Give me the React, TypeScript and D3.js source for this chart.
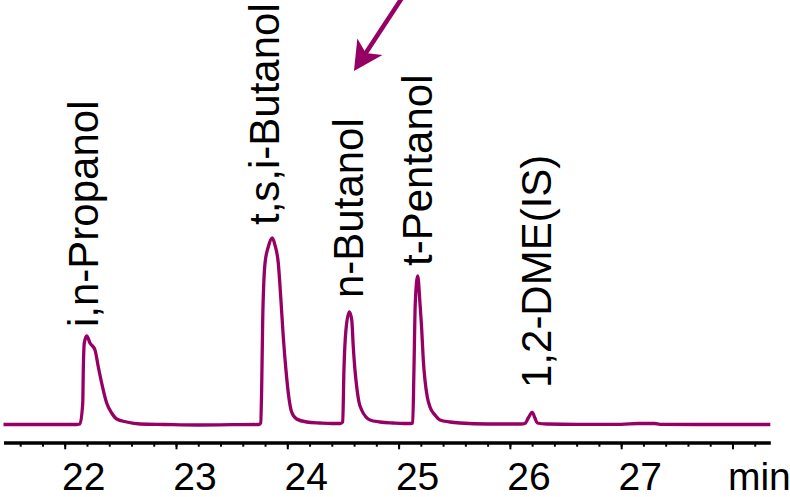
import { useEffect, useRef } from "react"
import * as d3 from "d3"

// chromatogram trace (min, arbitrary signal units)
const retentionTimes = [
  21.45, 21.8, 22.1, 22.137, 22.162, 22.167, 22.176, 22.198, 22.227, 22.272, 22.302, 22.332, 22.377, 22.422,
  22.467, 22.557, 22.677, 22.9, 23.2, 23.5, 23.745, 23.761, 23.77, 23.779, 23.8, 23.829, 23.865, 23.889,
  23.919, 23.941, 23.964, 23.988, 24.009, 24.039, 24.084, 24.174, 24.294, 24.4, 24.475, 24.498, 24.509,
  24.527, 24.557, 24.579, 24.593, 24.608, 24.624, 24.644, 24.668, 24.707, 24.743, 24.833, 24.95, 25.05,
  25.11, 25.127, 25.138, 25.15, 25.172, 25.192, 25.208, 25.222, 25.237, 25.258, 25.282, 25.327, 25.372,
  25.462, 25.552, 25.8, 26.1, 26.136, 26.165, 26.201, 26.225, 26.246, 26.331, 26.6, 27.0, 27.15, 27.3,
  27.35, 27.7, 28.34,
]
const detectorSignal = [
  0.5, 0.5, 0.5, 1, 22, 55, 82, 89, 82, 75, 58, 42, 22, 12,
  6, 3, 1, 0.5, 0, 0.3, 0.5, 2, 38, 105, 162, 178, 187, 180,
  162, 128, 88, 55, 32, 13, 6, 3, 2, 1.5, 1.5, 3, 55,
  95, 113, 105, 78, 55, 38, 23, 15, 8, 5, 3, 2, 1.5,
  1.5, 2, 55, 122, 149, 122, 95, 65, 45, 28, 18, 10, 5,
  3, 2, 1, 1, 1.5, 7, 12.5, 7, 2, 1, 0.7, 0.7, 1.5, 1.5,
  0.7, 0.5, 0.5,
]

const majorTicks = [22, 23, 24, 25, 26, 27, 28]
const tickLabels = ["22", "23", "24", "25", "26", "27", "min"]
const minorTicks = d3.range(108, 142).map((i) => i / 5)

const peakNames = ["i,n-Propanol", "t,s,i-Butanol", "n-Butanol", "t-Pentanol", "1,2-DME(IS)"]
const peakLabelTimes = [22.299, 23.925, 24.68, 25.3, 26.369]
const peakLabelSignal = [98, 200, 127, 159, 37]

// annotation arrow: tail -> tip, in (min, signal)
const arrowTail = [25.03, 427]
const arrowTip = [24.599, 354]

const color = "#960064"
const font = "'Liberation Sans', Arial, sans-serif"

export default function App() {
  const ref = useRef<SVGSVGElement>(null)

  useEffect(() => {
    const svg = d3.select(ref.current)
    svg.selectAll("*").remove()

    const x = d3.scaleLinear().domain([21.45, 28.34]).range([3.5, 770.3])
    const y = d3.scaleLinear().domain([0, 200]).range([425, 225])

    const axisG = svg.append("g").attr("transform", "translate(0, 442.5)")

    axisG
      .append("g")
      .call(d3.axisBottom(x).tickValues(minorTicks).tickSize(4.2).tickSizeOuter(0).tickFormat(() => ""))
      .call((g) => g.select(".domain").remove())
      .selectAll("line")
      .attr("stroke", "#000")
      .attr("stroke-width", 2)

    const major = axisG
      .append("g")
      .call(
        d3
          .axisBottom(x)
          .tickValues(majorTicks)
          .tickSize(6.8)
          .tickSizeOuter(0)
          .tickFormat((d, i) => tickLabels[i])
      )
    major.select(".domain").attr("stroke", "#000").attr("stroke-width", 3.3)
    major.selectAll(".tick line").attr("stroke", "#000").attr("stroke-width", 2)
    major
      .selectAll(".tick text")
      .attr("y", 47.5)
      .attr("dy", 0)
      .attr("dx", (d, i) => (tickLabels[i] === "min" ? -5 : 18.5))
      .attr("text-anchor", (d, i) => (tickLabels[i] === "min" ? "start" : "middle"))
      .attr("fill", "#000")
      .style("font-size", "39px")
      .style("font-family", font)

    const line = d3
      .line<number>()
      .x((d, i) => x(retentionTimes[i]))
      .y((d) => y(d))
      .curve(d3.curveMonotoneX)

    svg
      .append("path")
      .attr("d", line(detectorSignal))
      .attr("fill", "none")
      .attr("stroke", color)
      .attr("stroke-width", 3.3)
      .attr("stroke-linejoin", "round")

    svg
      .selectAll(".peak-label")
      .data(peakNames)
      .join("text")
      .attr("class", "peak-label")
      .attr("transform", (d, i) => `translate(${x(peakLabelTimes[i])}, ${y(peakLabelSignal[i])}) rotate(-90)`)
      .attr("text-anchor", "start")
      .style("font-size", "42px")
      .style("font-family", font)
      .attr("fill", "#000")
      .text((d) => d)

    // arrow
    const tx = x(arrowTail[0]), ty = y(arrowTail[1])
    const px = x(arrowTip[0]), py = y(arrowTip[1])
    const len = Math.hypot(px - tx, py - ty)
    const ux = (px - tx) / len, uy = (py - ty) / len
    const nx = -uy, ny = ux
    const headLen = 29, halfW = 15, notch = 21.5
    const notchX = px - ux * notch, notchY = py - uy * notch

    svg
      .append("line")
      .attr("x1", tx)
      .attr("y1", ty)
      .attr("x2", notchX + ux * 2)
      .attr("y2", notchY + uy * 2)
      .attr("stroke", color)
      .attr("stroke-width", 4.5)

    svg
      .append("polygon")
      .attr(
        "points",
        [
          [px, py],
          [px - ux * headLen + nx * halfW, py - uy * headLen + ny * halfW],
          [notchX, notchY],
          [px - ux * headLen - nx * halfW, py - uy * headLen - ny * halfW],
        ]
          .map((p) => p.join(","))
          .join(" ")
      )
      .attr("fill", color)
  }, [])

  return (
    <svg
      ref={ref}
      width={790}
      height={497}
      style={{ position: "absolute", left: 0, top: 0, background: "#fff" }}
    />
  )
}
